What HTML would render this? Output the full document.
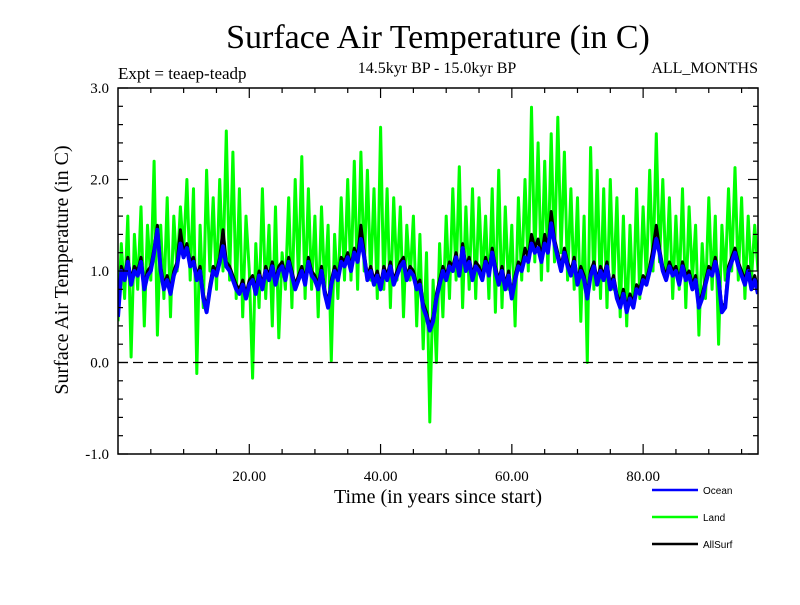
<!DOCTYPE html>
<html><head><meta charset="utf-8"><style>
body{margin:0;background:#fff}
svg text{font-family:"Liberation Serif",serif}
</style></head><body>
<svg id="c" width="800" height="600" xmlns="http://www.w3.org/2000/svg">
<text x="438" y="48" font-size="34" text-anchor="middle">Surface Air Temperature (in C)</text>
<text x="118" y="79" font-size="17">Expt = teaep-teadp</text>
<text x="437" y="73" font-size="16" text-anchor="middle">14.5kyr BP - 15.0kyr BP</text>
<text x="758" y="73" font-size="16" text-anchor="end">ALL_MONTHS</text>
<text transform="translate(68,270) rotate(-90)" font-size="20" text-anchor="middle">Surface Air Temperature (in C)</text>
<text x="438" y="503" font-size="20" text-anchor="middle">Time (in years since start)</text>
<g id="plot"></g>
</svg>
<script>
const land=[0.45,1.3,0.7,1.6,0.06,1.4,0.8,1.7,0.4,1.5,
0.9,2.2,0.3,1.5,0.7,1.8,0.5,1.6,1.0,1.7,
1.2,2.0,0.9,1.9,-0.12,1.5,0.6,2.1,1.0,1.8,
0.8,2.0,1.0,2.53,0.9,2.3,0.7,1.9,0.5,1.6,
1.0,-0.17,1.3,0.6,1.9,0.7,1.5,0.4,1.7,0.27,
1.2,0.8,1.8,0.6,2.0,0.9,2.25,0.7,1.9,0.8,
1.6,0.5,1.7,0.8,1.5,0.02,1.4,0.7,1.8,0.9,
2.0,0.9,2.2,0.8,2.3,1.0,2.1,0.9,1.9,0.7,
2.57,0.8,1.9,0.6,1.8,0.9,1.7,0.5,1.5,0.9,
1.6,0.4,1.4,0.15,1.2,-0.65,0.9,0.0,1.3,0.5,
1.6,0.7,1.9,0.9,2.14,0.6,1.7,0.8,1.9,0.7,
1.8,0.9,1.6,0.7,1.9,0.55,2.1,0.6,1.7,0.8,
1.5,0.4,1.8,0.9,2.0,1.0,2.79,1.1,2.4,0.9,
2.2,1.0,2.5,1.1,2.68,1.2,2.3,0.9,1.9,0.8,
1.8,0.45,1.6,0.0,2.35,0.8,2.1,0.7,1.9,0.6,
2.0,0.8,1.8,0.5,1.6,0.4,1.5,0.6,1.9,0.7,
1.7,0.9,2.1,1.0,2.5,1.1,2.0,0.9,1.8,0.7,
1.6,0.8,1.9,0.6,1.7,0.9,1.5,0.3,1.3,0.7,
1.8,0.8,1.6,0.2,1.5,0.9,1.9,1.0,2.13,0.9,
1.8,0.7,1.6,0.9,1.5,1.0];
const ocean=[0.5,1.0,0.9,1.1,0.85,1.0,0.95,1.1,0.8,0.95,
1.0,1.2,1.45,1.0,0.8,0.9,0.75,0.95,1.05,1.3,
1.15,1.25,1.05,1.1,0.9,1.0,0.7,0.55,0.8,1.0,
0.95,1.1,1.27,1.05,1.0,0.9,0.8,0.75,0.85,0.7,
0.85,0.9,0.75,0.95,0.8,1.0,0.9,1.05,0.85,1.0,
1.05,0.9,1.1,0.95,0.8,0.9,1.0,0.85,1.1,0.95,
0.9,0.8,1.0,0.75,0.6,0.85,1.0,0.9,1.1,1.05,
1.15,1.0,1.2,1.1,1.35,1.15,0.9,1.0,0.85,0.95,
0.8,1.0,0.9,1.05,0.85,0.95,1.05,1.1,0.9,1.0,
0.95,0.8,0.85,0.6,0.5,0.35,0.45,0.7,0.85,1.0,
0.9,1.05,1.0,1.15,0.95,1.25,1.0,1.1,0.9,1.05,
1.0,0.9,1.1,0.95,1.2,1.0,0.85,1.0,0.8,0.95,
0.7,0.9,1.05,1.0,1.15,1.1,1.3,1.2,1.25,1.1,
1.3,1.2,1.52,1.3,1.15,1.0,1.2,1.05,0.95,1.1,
0.85,1.0,0.9,0.7,0.95,1.05,0.85,1.0,0.9,1.05,
0.8,0.9,0.7,0.6,0.75,0.55,0.7,0.6,0.8,0.75,
0.9,0.85,1.0,1.15,1.35,1.2,1.0,0.9,1.05,0.95,
1.0,0.85,1.05,0.9,0.95,0.8,0.9,0.6,0.7,0.85,
1.0,0.95,1.1,0.9,0.55,0.6,1.0,1.1,1.2,1.05,
0.95,0.85,1.0,0.8,0.9,0.75];
const allsurf=[0.55,1.05,0.95,1.15,0.9,1.05,1.0,1.15,0.85,1.0,
1.05,1.25,1.5,1.05,0.85,0.95,0.8,1.0,1.1,1.45,
1.2,1.3,1.1,1.15,0.95,1.05,0.75,0.6,0.85,1.05,
1.0,1.15,1.45,1.1,1.05,0.95,0.85,0.8,0.9,0.75,
0.9,0.95,0.8,1.0,0.85,1.05,0.95,1.1,0.9,1.05,
1.1,0.95,1.15,1.0,0.85,0.95,1.05,0.9,1.15,1.0,
0.95,0.85,1.05,0.8,0.65,0.9,1.05,0.95,1.15,1.1,
1.2,1.05,1.25,1.15,1.5,1.2,0.95,1.05,0.9,1.0,
0.85,1.05,0.95,1.1,0.9,1.0,1.1,1.15,0.95,1.05,
1.0,0.85,0.9,0.65,0.55,0.4,0.5,0.75,0.9,1.05,
0.95,1.1,1.05,1.2,1.0,1.3,1.05,1.15,0.95,1.1,
1.05,0.95,1.15,1.0,1.25,1.05,0.9,1.05,0.85,1.0,
0.75,0.95,1.1,1.05,1.25,1.15,1.4,1.25,1.35,1.15,
1.4,1.25,1.65,1.35,1.2,1.05,1.25,1.1,1.0,1.15,
0.9,1.05,0.95,0.75,1.0,1.1,0.9,1.05,0.95,1.1,
0.85,0.95,0.75,0.65,0.8,0.6,0.75,0.65,0.85,0.8,
0.95,0.9,1.05,1.25,1.5,1.25,1.05,0.95,1.1,1.0,
1.05,0.9,1.1,0.95,1.0,0.85,0.95,0.65,0.75,0.9,
1.05,1.0,1.15,0.95,0.6,0.65,1.05,1.15,1.25,1.1,
1.0,0.9,1.05,0.85,0.95,0.8];
const xTickLabels=["20.00","40.00","60.00","80.00"];
const xTickVals=[20,40,60,80];
const yTickVals=[-1,0,1,2,3];
const yTickLabels=["-1.0","0.0","1.0","2.0","3.0"];
const legendNames=["Ocean","Land","AllSurf"];
const legendColors=["#0000ff","#00ff00","#000000"];

const L=118,R=758,T=88,B=454,X0=0,X1=97.5,Y0=-1,Y1=3,STEP=0.5;
const sx=v=>L+(v-X0)/(X1-X0)*(R-L);
const sy=v=>B-(v-Y0)/(Y1-Y0)*(B-T);
const NS="http://www.w3.org/2000/svg";
const g=document.getElementById('plot');
function mk(t,a,p){const e=document.createElementNS(NS,t);for(const k in a)e.setAttribute(k,a[k]);(p||g).appendChild(e);return e;}

const cp=mk('clipPath',{id:'cl'});mk('rect',{x:L,y:T,width:R-L,height:B-T},cp);
const sg=mk('g',{'clip-path':'url(#cl)'});
function seriesIn(arr,color,name,w){
  const d=arr.map((v,i)=>(i?'L':'M')+sx(i*STEP).toFixed(1)+','+sy(v).toFixed(1)).join('');
  const p=mk('path',{d:d,fill:'none',stroke:color,'stroke-width':w,'stroke-linejoin':'round'},sg);
  
  
}
seriesIn(land,'#00ff00','land-line',3);
seriesIn(allsurf,'#000000','allsurf-line',3);
seriesIn(ocean,'#0000ff','ocean-line',4);

const zl=mk('line',{x1:L,x2:R,y1:sy(0),y2:sy(0),stroke:'#000','stroke-width':1.3,'stroke-dasharray':'10,5'});



const fr=mk('rect',{x:L,y:T,width:R-L,height:B-T,fill:'none',stroke:'#000','stroke-width':1.5});



for(let v=5;v<X1;v+=5){
  const major=v%20===0, len=major?10:5;
  mk('line',{x1:sx(v),x2:sx(v),y1:B,y2:B-len,stroke:'#000','stroke-width':1.2});
  mk('line',{x1:sx(v),x2:sx(v),y1:T,y2:T+len,stroke:'#000','stroke-width':1.2});
}
xTickVals.forEach((v,i)=>{
  const t=mk('text',{x:sx(v),y:B+27,'font-size':15,'text-anchor':'middle'});
  t.textContent=xTickLabels[i];
  
  
});
for(let k=0;k<=20;k++){
  const v=Y0+k*0.2, major=k%5===0, len=major?10:5;
  mk('line',{x1:L,x2:L+len,y1:sy(v),y2:sy(v),stroke:'#000','stroke-width':1.2});
  mk('line',{x1:R,x2:R-len,y1:sy(v),y2:sy(v),stroke:'#000','stroke-width':1.2});
}
yTickVals.forEach((v,i)=>{
  const t=mk('text',{x:L-9,y:sy(v)+5,'font-size':15,'text-anchor':'end'});
  t.textContent=yTickLabels[i];
  
  
});
legendNames.forEach((n,i)=>{
  const y=490+i*27;
  const lg=mk('g',{});
  
  
  mk('line',{x1:652,x2:698,y1:y,y2:y,stroke:legendColors[i],'stroke-width':2.5},lg);
  const t=mk('text',{x:703,y:y+4,'font-size':10,style:'font-family:"Liberation Sans",sans-serif'},lg);
  t.textContent=n;
});
</script>
</body></html>
